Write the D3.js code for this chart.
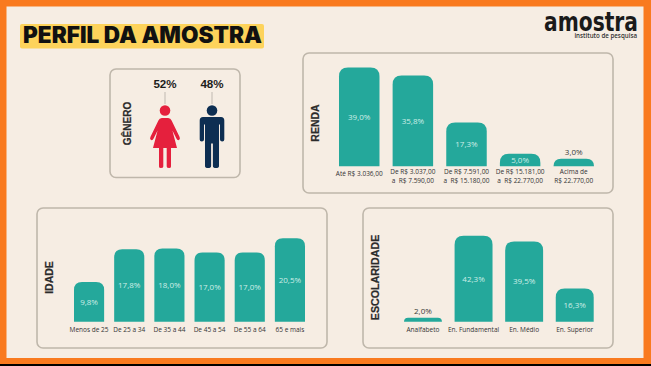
<!DOCTYPE html>
<html>
<head>
<meta charset="utf-8">
<script src="https://cdn.jsdelivr.net/npm/d3@7"></script>
<style>
  html, body { margin: 0; padding: 0; background: #000; overflow: hidden; }
  svg { display: block; }
</style>
</head>
<body>
<div id="chart"></div>
<script>
// data
const rendaCats = ["Até R$ 3.036,00", "De R$ 3.037,00|a  R$ 7.590,00", "De R$ 7.591,00|a  R$ 15.180,00", "De R$ 15.181,00|a  R$ 22.770,00", "Acima de|R$ 22.770,00"];
const rendaVals = [39.0, 35.8, 17.3, 5.0, 3.0];
const idadeCats = ["Menos de 25", "De 25 a 34", "De 35 a 44", "De 45 a 54", "De 55 a 64", "65 e mais"];
const idadeVals = [9.8, 17.8, 18.0, 17.0, 17.0, 20.5];
const escolCats = ["Analfabeto", "En. Fundamental", "En. Médio", "En. Superior"];
const escolVals = [2.0, 42.3, 39.5, 16.3];
const generoVals = [52, 48];

const W = 651, H = 366;
const BG = "#f6ede3", ORANGE = "#f97a1f", TEAL = "#24a89b", BORDER = "#bfb7ab", INK = "#1d1d1b";
const SANS = "'Open Sans', sans-serif", HEAD = "'Liberation Sans', Arial, sans-serif";
const fmt = v => v.toFixed(1).replace(".", ",") + "%";

const svg = d3.select("#chart").append("svg").attr("width", W).attr("height", H);

// frame
svg.append("rect").attr("width", W).attr("height", 364).attr("fill", ORANGE);
svg.append("rect").attr("x", 6.5).attr("y", 6.5).attr("width", 637).attr("height", 351.5).attr("fill", BG);

// title
svg.append("rect").attr("x", 20).attr("y", 24).attr("width", 244).attr("height", 24.5).attr("rx", 2).attr("fill", "#fdd35b");
svg.append("text").attr("x", 23).attr("y", 42.5)
  .attr("font-family", "Inter, sans-serif").attr("font-weight", 900).attr("font-size", 22.5)
  .attr("fill", "#111")
  .attr("textLength", 239).attr("lengthAdjust", "spacingAndGlyphs")
  .text("PERFIL DA AMOSTRA");

// logo
svg.append("text").attr("x", 544).attr("y", 30.5)
  .attr("font-family", "'DejaVu Sans', sans-serif").attr("font-weight", 700).attr("font-size", 27)
  .attr("fill", "#1a1a1a").attr("textLength", 94).attr("lengthAdjust", "spacingAndGlyphs")
  .text("amostra");
svg.append("text").attr("x", 637).attr("y", 37.5).attr("text-anchor", "end")
  .attr("font-family", SANS).attr("font-weight", 600).attr("font-size", 6.2)
  .attr("fill", "#333").text("instituto de pesquisa");

function panel(x, y, w, h) {
  svg.append("rect").attr("x", x).attr("y", y).attr("width", w).attr("height", h).attr("rx", 6)
    .attr("fill", "none").attr("stroke", BORDER).attr("stroke-width", 1.6);
}

function sideTitle(txt, x, y, size) {
  svg.append("text").attr("transform", `translate(${x},${y}) rotate(-90)`)
    .attr("text-anchor", "middle").attr("font-family", HEAD).attr("font-weight", 700)
    .attr("font-size", size).attr("fill", "#2b2b2b").attr("stroke", "#2b2b2b").attr("stroke-width", 0.2).text(txt);
}

// bar with rounded top corners, radius capped by the bar height
function barPath(x0, x1, top, base, rad) {
  const r = Math.min(rad, base - top);
  const p = d3.path();
  p.moveTo(x0, base);
  p.lineTo(x0, top + r);
  p.quadraticCurveTo(x0, top, x0 + r, top);
  p.lineTo(x1 - r, top);
  p.quadraticCurveTo(x1, top, x1, top + r);
  p.lineTo(x1, base);
  p.closePath();
  return p.toString();
}

function barChart(o) {
  const x = d3.scaleBand().domain(o.cats).range(o.xr).paddingInner(o.pad);
  const y = d3.scaleLinear().domain([0, o.max]).range(o.yr);
  const g = svg.append("g");

  g.selectAll("path.bar").data(o.vals).enter().append("path")
    .attr("class", "bar")
    .attr("fill", TEAL)
    .attr("d", (d, i) => barPath(x(o.cats[i]), x(o.cats[i]) + x.bandwidth(), y(d), y(0), o.rad));

  g.selectAll("text.val").data(o.vals).enter().append("text")
    .attr("class", "val")
    .attr("x", (d, i) => x(o.cats[i]) + x.bandwidth() / 2)
    .attr("y", d => d <= 3 ? y(d) - 4 : (y(d) + y(0)) / 2 + 2.8)
    .attr("text-anchor", "middle")
    .attr("font-family", SANS).attr("font-size", 8)
    .attr("fill", d => d <= 3 ? "#3a3a3a" : "#cfeee7")
    .text(fmt);

  // category labels, two lines split on |
  const axis = g.append("g")
    .attr("transform", `translate(0,${y(0)})`)
    .call(d3.axisBottom(x).tickSize(0).tickPadding(0));
  axis.select(".domain").remove();
  axis.selectAll(".tick text")
    .attr("font-family", SANS).attr("font-size", o.labelSize).attr("fill", "#333")
    .attr("y", null).attr("dy", null)
    .style("white-space", "pre")
    .each(function(d) {
      const lines = d.split("|");
      const t = d3.select(this).text(null);
      const first = lines.length > 1 ? o.labelY : o.labelY + (o.singleShift || 0);
      lines.forEach((s, i) => t.append("tspan").attr("x", 0).attr("y", first + i * 8.6).text(s));
    });
}

// RENDA
panel(303, 53, 310, 140);
sideTitle("RENDA", 318.5, 123, 10.5);
barChart({ cats: rendaCats, vals: rendaVals, xr: [339, 594], pad: 0.245, max: 39, yr: [166.3, 67.5], rad: 9, labelSize: 6.5, labelY: 8.2, singleShift: 2 });

// IDADE
panel(37, 208, 290, 140);
sideTitle("IDADE", 52.5, 277.5, 10.5);
barChart({ cats: idadeCats, vals: idadeVals, xr: [74, 305], pad: 0.25, max: 20.5, yr: [321.8, 238.3], rad: 8, labelSize: 6.5, labelY: 10.5 });

// ESCOLARIDADE
panel(363, 208, 250, 140);
sideTitle("ESCOLARIDADE", 378.5, 277.5, 10.7);
barChart({ cats: escolCats, vals: escolVals, xr: [404, 593.7], pad: 0.25, max: 42.3, yr: [321.8, 235.7], rad: 9, labelSize: 6.5, labelY: 9.8 });

// GENERO
panel(110, 69, 130, 108.5);
sideTitle("GÊNERO", 131, 123.5, 10);

const womanPath = "M-3.2,7.5 L3.2,7.5 Q5.6,7.5 6.6,10 L14.6,26.6 Q15.6,29 13.8,29.6 Q12.3,30 11.4,28 L7.4,20 L12,37.5 L6,37.5 L6,56 Q6,57.6 4.2,57.6 Q1.7,57.6 1.7,56 L1.7,37.5 L-1.7,37.5 L-1.7,56 Q-1.7,57.6 -4.2,57.6 Q-6,57.6 -6,56 L-6,37.5 L-12,37.5 L-7.4,20 L-11.4,28 Q-12.3,30 -13.8,29.6 Q-15.6,29 -14.6,26.6 L-6.6,10 Q-5.6,7.5 -3.2,7.5 Z";
const manPath = "M-9,6.5 L9,6.5 Q12.3,6.5 12.3,10 L12.3,29 Q12.3,31 10.2,31 Q8,31 8,29 L8,14 L7,14 L7,55.5 Q7,57.6 4,57.6 Q0.9,57.6 0.9,55.5 L0.9,33 L-0.9,33 L-0.9,55.5 Q-0.9,57.6 -4,57.6 Q-7,57.6 -7,55.5 L-7,14 L-8,14 L-8,29 Q-8,31 -10.2,31 Q-12.3,31 -12.3,29 L-12.3,10 Q-12.3,6.5 -9,6.5 Z";
const genders = [
  { cx: 165, fill: "#e5203d", shape: womanPath },
  { cx: 212, fill: "#0d2e52", shape: manPath }
];
const pct = d3.format("d");

genders.forEach((s, i) => {
  const person = svg.append("g").attr("transform", `translate(${s.cx},110.5)`);
  person.append("circle").attr("r", 5.3).attr("fill", s.fill);
  person.append("path").attr("d", s.shape).attr("fill", s.fill);
  svg.append("line").attr("x1", s.cx).attr("x2", s.cx).attr("y1", 92).attr("y2", 104)
    .attr("stroke", "#aaa59c").attr("stroke-width", 0.7);
  svg.append("text").attr("x", s.cx).attr("y", 88).attr("text-anchor", "middle")
    .attr("font-family", HEAD).attr("font-weight", 700).attr("font-size", 11.6)
    .attr("fill", INK).text(pct(generoVals[i]) + "%");
});
</script>
</body>
</html>
